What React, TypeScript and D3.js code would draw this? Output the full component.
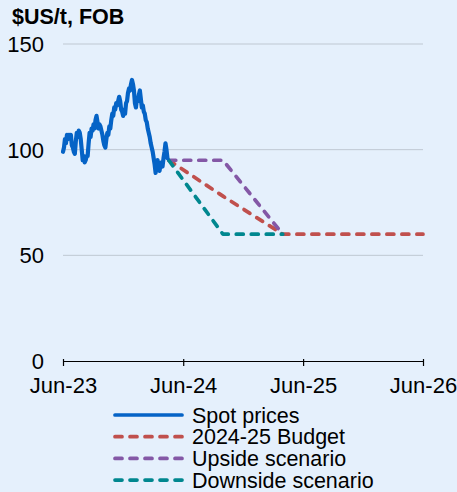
import React, { useEffect, useRef } from 'react';
import * as d3 from 'd3';

// Spot prices every 3 days, starting 1 Jun 2023 ($US/t, FOB)
const spotStart = '2023-06-01';
const spotPrices = [
  99, 101, 105, 103, 107, 105, 107, 106, 107, 102, 101, 99, 98, 104, 108, 106,
  109, 108, 105, 100, 95, 97, 94, 95, 97, 97, 103, 108, 106, 110, 109, 112,
  110, 114, 116, 113, 110, 112, 111, 109, 107, 104, 102, 101, 105, 108, 107,
  111, 110, 114, 117, 116, 120, 119, 122, 121, 123, 125, 123, 119, 118, 116,
  119, 117, 122, 123, 127, 129, 128, 131, 133, 131, 128, 122, 120, 124, 123,
  126, 128, 124, 120, 121, 118, 117, 114, 113, 110, 108, 106, 103, 101, 99,
  96, 93, 89, 94, 95, 91, 90, 93, 94, 92, 96, 99, 103, 100, 96,
];

// Forecast paths
const forecastDates = ['2024-04-18', '2024-09-30', '2025-03-31', '2026-06-01'];
const budget = [95, 78, 60, 60];
const upside = [95, 95, 60, null];
const downside = [95, 60, 60, null];

const yTicks = [0, 50, 100, 150];
const xTicks = ['2023-06-01', '2024-06-01', '2025-06-01', '2026-06-01'];

const legendLabels = ['Spot prices', '2024-25 Budget', 'Upside scenario', 'Downside scenario'];

const COLORS = {
  spot: '#0563c6',
  budget: '#c0504d',
  upside: '#8458a6',
  downside: '#00878f',
};

const App: React.FC = () => {
  const svgRef = useRef<SVGSVGElement>(null);

  useEffect(() => {
    if (!svgRef.current) return;
    const svg = d3.select(svgRef.current);
    svg.selectAll('*').remove();

    const width = 457;
    const height = 492;
    const parse = d3.timeParse('%Y-%m-%d');
    const font = 'Liberation Sans, Arial, sans-serif';

    svg.attr('width', width).attr('height', height);

    svg.append('rect')
      .attr('width', width)
      .attr('height', height)
      .attr('fill', '#e5f0fc');

    const x = d3.scaleTime()
      .domain([parse('2023-06-01')!, parse('2026-06-01')!])
      .range([63, 423]);

    const y = d3.scaleLinear()
      .domain([0, 150])
      .range([361, 44]);

    // Gridlines
    svg.append('g')
      .selectAll('line')
      .data(yTicks.filter(t => t > 0))
      .enter()
      .append('line')
      .attr('x1', x.range()[0])
      .attr('x2', x.range()[1])
      .attr('y1', d => y(d))
      .attr('y2', d => y(d))
      .attr('stroke', '#bfc8d2')
      .attr('stroke-width', 1);

    // Y tick labels
    svg.append('g')
      .selectAll('text')
      .data(yTicks)
      .enter()
      .append('text')
      .attr('x', 44)
      .attr('y', d => y(d))
      .attr('dy', '0.36em')
      .attr('text-anchor', 'end')
      .attr('font-family', font)
      .attr('font-size', '22px')
      .attr('fill', '#000')
      .text(d => d);

    // X axis
    const xAxis = d3.axisBottom(x)
      .tickValues(xTicks.map(d => parse(d)!))
      .tickSize(5)
      .tickSizeOuter(0)
      .tickFormat(d => d3.timeFormat('%b-%y')(d as Date));

    const gx = svg.append('g')
      .attr('transform', `translate(0,${y(0)})`)
      .call(xAxis);
    gx.select('.domain').attr('stroke', '#000').attr('stroke-width', 1.2);
    gx.selectAll('.tick line').attr('stroke', '#000').attr('stroke-width', 1.2).attr('y1', -2);
    gx.selectAll('.tick text')
      .attr('font-family', font)
      .attr('font-size', '22px')
      .attr('fill', '#000')
      .attr('y', 16)
      .attr('dy', '0.71em');

    // Forecast lines
    const fDates = forecastDates.map(d => parse(d)!);
    const line = d3.line<[Date, number | null]>()
      .defined(d => d[1] != null)
      .x(d => x(d[0]))
      .y(d => y(d[1] as number));

    const dashed = [
      { values: budget, color: COLORS.budget },
      { values: upside, color: COLORS.upside },
      { values: downside, color: COLORS.downside },
    ];

    dashed.forEach(s => {
      svg.append('path')
        .datum(fDates.map((d, i) => [d, s.values[i]] as [Date, number | null]))
        .attr('d', line)
        .attr('fill', 'none')
        .attr('stroke', s.color)
        .attr('stroke-width', 3.7)
        .attr('stroke-dasharray', '7,8')
        .attr('stroke-linecap', 'round')
        .attr('stroke-linejoin', 'round');
    });

    // Spot prices
    const start = parse(spotStart)!;
    const spotData = spotPrices.map((v, i) => [d3.timeDay.offset(start, i * 3), v] as [Date, number]);
    svg.append('path')
      .datum(spotData)
      .attr('d', line as any)
      .attr('fill', 'none')
      .attr('stroke', COLORS.spot)
      .attr('stroke-width', 4.2)
      .attr('stroke-linejoin', 'round')
      .attr('stroke-linecap', 'round');

    // Title
    svg.append('text')
      .attr('x', 12)
      .attr('y', 24)
      .attr('font-family', font)
      .attr('font-size', '21.5px')
      .attr('font-weight', 'bold')
      .attr('fill', '#000')
      .text('$US/t, FOB');

    // Legend
    const legendColors = [COLORS.spot, COLORS.budget, COLORS.upside, COLORS.downside];
    const lg = svg.append('g');
    legendLabels.forEach((label, i) => {
      const ly = 415 + i * 21.7;
      lg.append('line')
        .attr('x1', 115)
        .attr('x2', 182)
        .attr('y1', ly)
        .attr('y2', ly)
        .attr('stroke', legendColors[i])
        .attr('stroke-width', 3.7)
        .attr('stroke-linecap', 'round')
        .attr('stroke-dasharray', i === 0 ? null : '7,8');
      lg.append('text')
        .attr('x', 192)
        .attr('y', ly)
        .attr('dy', '0.36em')
        .attr('font-family', font)
        .attr('font-size', '21.5px')
        .attr('fill', '#000')
        .text(label);
    });
  }, []);

  return (
    <div style={{ position: 'absolute', left: 0, top: 0 }}>
      <svg ref={svgRef} style={{ display: 'block' }}></svg>
    </div>
  );
};

export default App;
